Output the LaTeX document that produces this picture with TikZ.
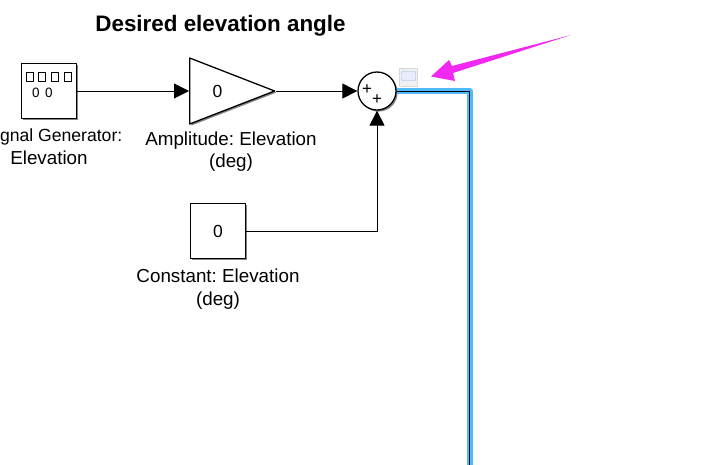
\documentclass[tikz,border=0pt]{standalone}
\usepackage{fontspec}
\setmainfont{Liberation Sans}
\usetikzlibrary{arrows.meta,calc,positioning,shadows,shapes.geometric}
\definecolor{wireblue}{RGB}{80,185,250}
\definecolor{arrowpink}{RGB}{240,40,240}
\frenchspacing
\tikzset{
  blockshadow/.style={drop shadow={shadow xshift=1.6pt,shadow yshift=-1.6pt,fill=black!60,opacity=0.8}},
  blockbox/.style={draw,line width=1.3pt,fill=white,minimum size=55pt,inner sep=0pt,blockshadow},
  gainbox/.style={draw,line width=1.3pt,fill=white,isosceles triangle,isosceles triangle stretches,minimum width=66pt,minimum height=85pt,inner sep=0pt,blockshadow},
  sumbox/.style={draw,line width=1.3pt,fill=white,circle,minimum size=38pt,inner sep=0pt,blockshadow},
  capt/.style={align=center,inner sep=0pt,font=\fontsize{18.8}{22.5}\selectfont},
  wire/.style={-{Triangle[length=15pt,width=15pt]},line width=1pt},
  numtext/.style={font=\fontsize{17.5}{18}\selectfont},
  smalltext/.style={font=\fontsize{13.5}{14}\selectfont},
  signtext/.style={font=\fontsize{17}{17}\selectfont},
  dotbox/.style={draw,line width=1pt,minimum width=6.5pt,minimum height=9pt,inner sep=0pt}
}
\begin{document}
\begin{tikzpicture}[x=1pt,y=-1pt,>=Stealth,line join=round]
\useasboundingbox (0,0) rectangle (711,464);
\clip (0,0) rectangle (711,464);
% --- blocks
\node[blockbox] (siggen) at (49,91) {};
\node[gainbox,anchor=lower side] (gain) at (189,91) {};
\node[numtext] (gainval) at (217.5,91.5) {0};
\node[sumbox] (sum) at (377,91) {};
\node[blockbox] (const) at (218,231) {};
\node[numtext] (constval) at (218,231) {0};
% --- signal generator face
\foreach \x in {30,42,55,68} {\node[dotbox] at (\x,76.5) {};}
\node[smalltext] (sigzeroa) at (36,93) {0};
\node[smalltext] (sigzerob) at (49,93) {0};
% --- sum signs
\node[signtext] (plusa) at (367,90) {+};
\node[signtext] (plusb) at (377,100) {+};
% --- texts
\node[font=\bfseries\fontsize{22.4}{24}\selectfont] (title) at (220.5,25.5) {Desired elevation angle};
\node[capt,anchor=east,font=\fontsize{17.6}{22}\selectfont] (sigcapt) at (122.5,136.5) {gnal Generator:};
\node[capt] (sigcaptb) at (49,158) {Elevation};
\node[capt] (gaincapt) at (231,151.5) {Amplitude: Elevation\\(deg)};
\node[capt] (constcapt) at (218,289) {Constant: Elevation\\(deg)};
% --- selected wire
\coordinate (wirecorner) at (470,91);
\coordinate (wireend) at (470,470);
\draw[wireblue,line width=5.5pt] (sum.east) -- (wirecorner) -- (wireend);
\draw[line width=1pt] (sum.east) -- (469,91) -- (469,470);
% --- wires
\draw[wire] (siggen.east) -- (gain.lower side);
\draw[wire] (gain.apex) -- (sum.west);
\draw[wire] (const.east) -| (sum.south);
% --- viewer icon
\node[draw=black!15,fill=blue!5!black!6,minimum size=18pt,inner sep=0pt] (icon) at (408.5,77.5) {};
\node[draw=cyan!50!blue!40,fill=white!92!blue,rounded corners=1pt,minimum width=14pt,minimum height=9pt,inner sep=0pt] (iconscreen) at (408.5,76) {};
% --- pointer
\fill[arrowpink] (431,76.5) -- (449,60) -- (452,66) -- (571,35) -- (453,73) -- (455,81) -- cycle;
\end{tikzpicture}
\end{document}
